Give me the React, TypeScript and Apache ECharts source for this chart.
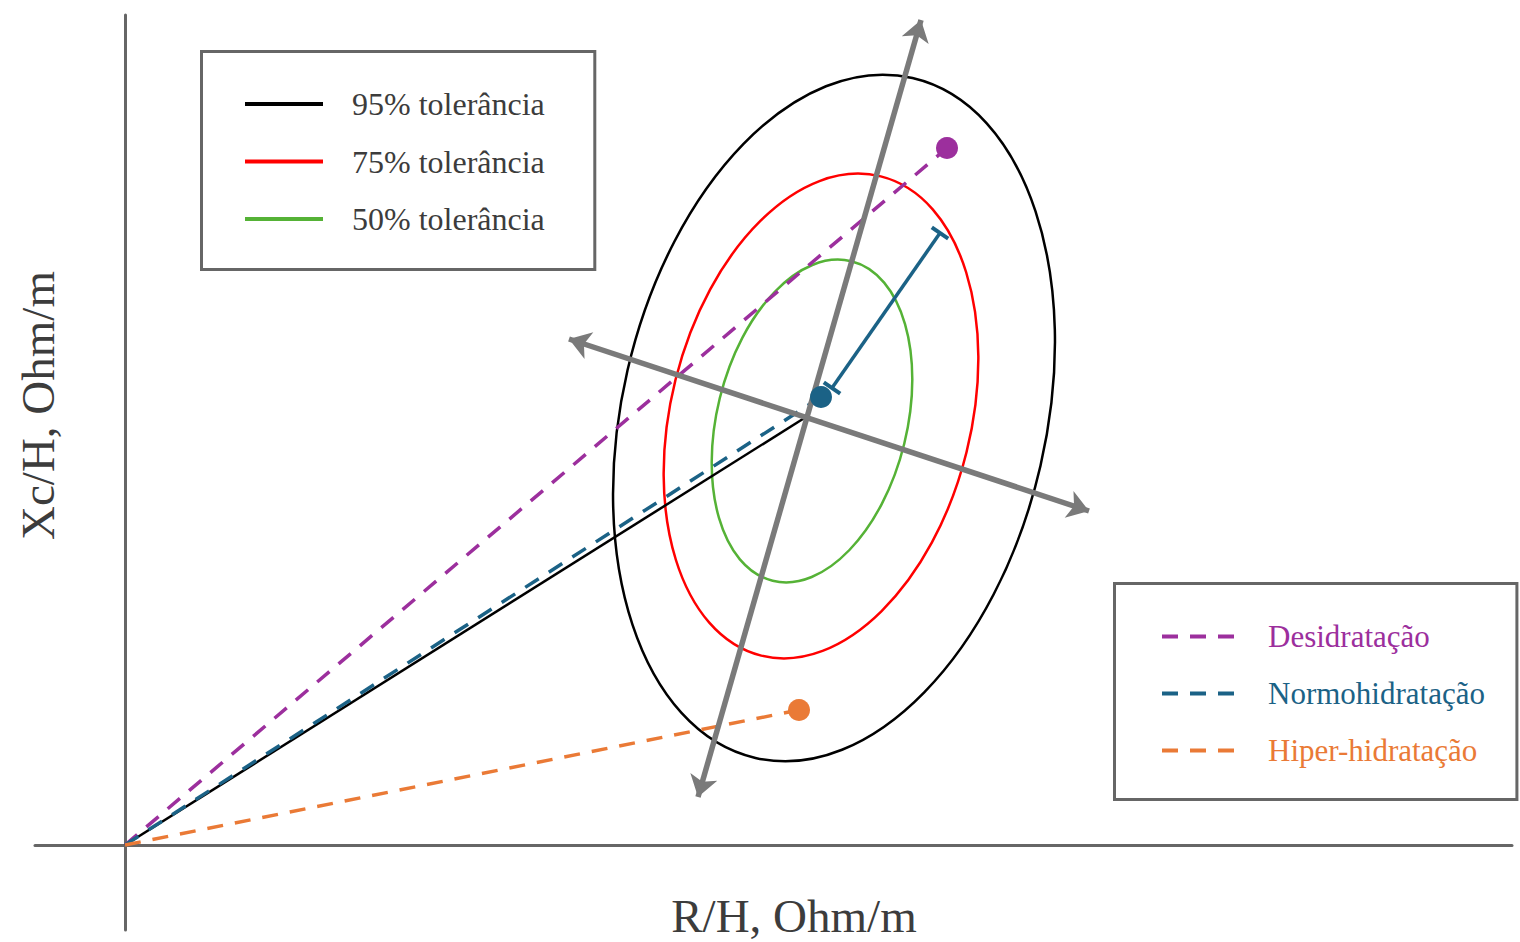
import React, { useEffect, useRef } from 'react';
import * as echarts from 'echarts';

// ---- data ----
const X_RANGE = [-90, 1387];
const Y_RANGE = [-85, 830];

const ORIGIN = [0, 0];
const MEAN_VECTOR = [681, 428];
const DESIDRATACAO = [822, 697];
const NORMOHIDRATACAO = [696, 448];
const HIPERHIDRATACAO = [674, 135];
const ERROR_BAR = [[707, 457], [815, 612]];
const MAJOR_AXIS = [[573, 48], [796, 825]];
const MINOR_AXIS = [[444, 506], [964, 334]];

// tolerance ellipses: [centre x, centre y, semi-major, semi-minor, major-axis angle (deg)]
const ELLIPSE_95 = [709, 427, 349, 212, 77];
const ELLIPSE_75 = [696, 429, 247, 150, 76];
const ELLIPSE_50 = [687, 424, 164.5, 95, 76.2];

const TOLERANCE_NAMES = ['95% tolerância', '75% tolerância', '50% tolerância'];
const HYDRATION_NAMES = ['Desidratação', 'Normohidratação', 'Hiper-hidratação'];
const X_NAME = 'R/H, Ohm/m';
const Y_NAME = 'Xc/H, Ohm/m';

// ---- styles ----
const FONT = "'Liberation Serif', 'Times New Roman', serif";
const TEXT = '#3c3c3c';
const PURPLE = '#9c2f9d';
const BLUE = '#1b6286';
const ORANGE = '#ea7a36';
const GRAY = '#7a7a7a';
const TOL_COLORS = ['#000000', '#ff0000', '#55b236'];
const DASH = [16, 12];

function ellipseSeries(name: string, params: number[], color: string) {
  return {
    name,
    type: 'custom',
    coordinateSystem: 'cartesian2d',
    data: [params],
    encode: { x: 0, y: 1 },
    itemStyle: { color },
    silent: true,
    z: 2,
    renderItem: (_p: any, api: any) => {
      const c = api.coord([api.value(0), api.value(1)]);
      const rx = api.size([api.value(2), 0])[0];
      const ry = api.size([0, api.value(3)])[1];
      return {
        type: 'ellipse',
        x: c[0],
        y: c[1],
        rotation: (api.value(4) * Math.PI) / 180,
        shape: { cx: 0, cy: 0, rx, ry },
        style: { fill: 'none', stroke: color, lineWidth: 2.5 },
      };
    },
  };
}

export default function App() {
  const ref = useRef<HTMLDivElement>(null);

  useEffect(() => {
    if (!ref.current) return;
    const chart = echarts.init(ref.current, null, { renderer: 'svg' });
    const errAngle =
      (Math.atan2(ERROR_BAR[1][1] - ERROR_BAR[0][1], ERROR_BAR[1][0] - ERROR_BAR[0][0]) * 180) /
      Math.PI;

    chart.setOption({
      animation: false,
      backgroundColor: '#ffffff',
      grid: { left: 35, top: 15, width: 1477, height: 915, containLabel: false, outerBoundsMode: 'none' },
      xAxis: {
        type: 'value',
        min: X_RANGE[0],
        max: X_RANGE[1],
        axisLine: { onZero: true, lineStyle: { color: '#666666', width: 3 } },
        axisTick: { show: false },
        axisLabel: { show: false },
        splitLine: { show: false },
        name: X_NAME,
        nameLocation: 'middle',
        nameGap: -38,
        nameTextStyle: { fontFamily: FONT, fontSize: 47, color: TEXT, padding: [0, 0, 0, 41] },
      },
      yAxis: {
        type: 'value',
        min: Y_RANGE[0],
        max: Y_RANGE[1],
        axisLine: { onZero: true, lineStyle: { color: '#666666', width: 3 } },
        axisTick: { show: false },
        axisLabel: { show: false },
        splitLine: { show: false },
        name: Y_NAME,
        nameLocation: 'middle',
        nameGap: -26,
        nameTextStyle: { fontFamily: FONT, fontSize: 47, color: TEXT, padding: [0, 0, 0, 134] },
      },
      legend: [
        {
          orient: 'vertical',
          left: 201.5,
          top: 51.5,
          padding: [36.5, 50, 34.5, 43.5],
          itemGap: 25.5,
          itemWidth: 78,
          itemHeight: 4,
          icon: 'rect',
          borderColor: '#666666',
          borderWidth: 3,
          selectedMode: false,
          data: TOLERANCE_NAMES,
          textStyle: {
            fontFamily: FONT,
            fontSize: 32,
            lineHeight: 30,
            color: TEXT,
            padding: [0, 0, 0, 24],
          },
        },
        {
          orient: 'vertical',
          left: 1114.5,
          top: 583.5,
          padding: [37.5, 32, 33.5, 45.5],
          itemGap: 26,
          itemWidth: 72,
          itemHeight: 4,
          borderColor: '#666666',
          borderWidth: 3,
          selectedMode: false,
          itemStyle: { opacity: 0 },
          lineStyle: { width: 4, type: DASH },
          data: [
            { name: HYDRATION_NAMES[0], textStyle: { color: PURPLE } },
            { name: HYDRATION_NAMES[1], textStyle: { color: BLUE } },
            { name: HYDRATION_NAMES[2], textStyle: { color: ORANGE } },
          ],
          textStyle: {
            fontFamily: FONT,
            fontSize: 31,
            lineHeight: 30,
            padding: [0, 0, 0, 29],
          },
        },
      ],
      series: [
        ellipseSeries(TOLERANCE_NAMES[0], ELLIPSE_95, TOL_COLORS[0]),
        ellipseSeries(TOLERANCE_NAMES[1], ELLIPSE_75, TOL_COLORS[1]),
        ellipseSeries(TOLERANCE_NAMES[2], ELLIPSE_50, TOL_COLORS[2]),
        {
          name: 'Vetor médio',
          type: 'line',
          data: [ORIGIN, MEAN_VECTOR],
          symbol: 'none',
          silent: true,
          lineStyle: { color: '#000000', width: 2.5 },
          itemStyle: { color: '#000000' },
          z: 3,
        },
        {
          name: HYDRATION_NAMES[0],
          type: 'line',
          data: [ORIGIN, DESIDRATACAO],
          symbol: 'none',
          silent: true,
          lineStyle: { color: PURPLE, width: 3.5, type: DASH },
          itemStyle: { color: PURPLE },
          z: 4,
        },
        {
          name: HYDRATION_NAMES[1],
          type: 'line',
          data: [ORIGIN, NORMOHIDRATACAO],
          symbol: 'none',
          silent: true,
          lineStyle: { color: BLUE, width: 3.5, type: DASH },
          itemStyle: { color: BLUE },
          z: 4,
        },
        {
          name: HYDRATION_NAMES[2],
          type: 'line',
          data: [ORIGIN, HIPERHIDRATACAO],
          symbol: 'none',
          silent: true,
          lineStyle: { color: ORANGE, width: 3.5, type: DASH },
          itemStyle: { color: ORANGE },
          z: 4,
        },
        {
          name: 'Eixos',
          type: 'lines',
          coordinateSystem: 'cartesian2d',
          silent: true,
          data: [{ coords: MAJOR_AXIS }, { coords: MINOR_AXIS }],
          symbol: ['arrow', 'arrow'],
          symbolSize: 21,
          lineStyle: { color: GRAY, width: 5.5, opacity: 1, curveness: 0 },
          z: 5,
        },
        {
          name: 'Desvio',
          type: 'line',
          data: ERROR_BAR,
          symbol: 'rect',
          symbolSize: [20, 4],
          symbolRotate: errAngle + 90,
          silent: true,
          lineStyle: { color: BLUE, width: 3.5 },
          itemStyle: { color: BLUE },
          z: 6,
        },
        {
          name: 'Pontos',
          type: 'scatter',
          silent: true,
          symbolSize: 22,
          data: [
            { value: DESIDRATACAO, itemStyle: { color: PURPLE, opacity: 1 } },
            { value: NORMOHIDRATACAO, itemStyle: { color: BLUE, opacity: 1 } },
            { value: HIPERHIDRATACAO, itemStyle: { color: ORANGE, opacity: 1 } },
          ],
          z: 7,
        },
      ],
    });
    return () => chart.dispose();
  }, []);

  return (
    <div
      ref={ref}
      style={{ position: 'fixed', left: 0, top: 0, width: 1520, height: 942, background: '#fff' }}
    />
  );
}
